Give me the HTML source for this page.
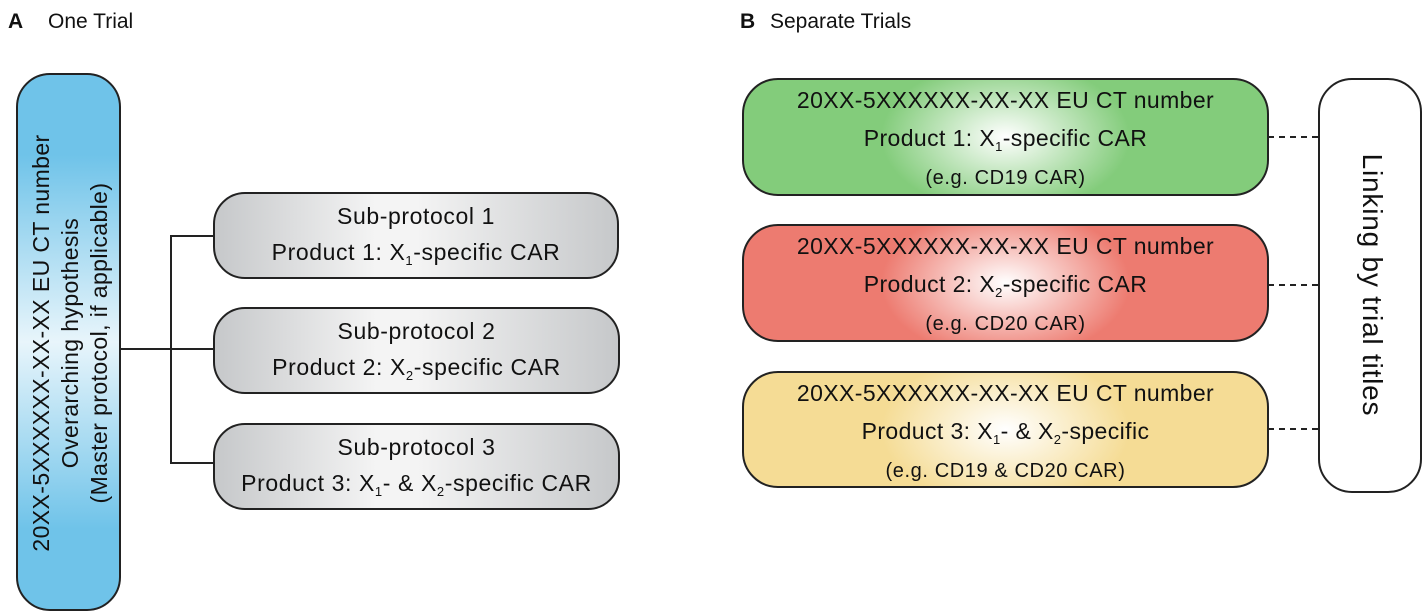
<!DOCTYPE html>
<html><head><meta charset="utf-8"><style>
body{margin:0;width:1428px;height:616px;background:#fff;position:relative;overflow:hidden;font-family:"Liberation Sans",sans-serif;color:#111}
.b{position:absolute;box-sizing:border-box;border:2.5px solid #222;text-align:center;white-space:nowrap}
.g{border-radius:32px;background:linear-gradient(90deg,#c6c8ca,#f4f4f4 40%,#f4f4f4 50%,#c6c8ca);font-size:23px;line-height:36px;padding-top:4px;letter-spacing:0.6px}
.c{border-radius:36px;font-size:23px;line-height:38px;padding-top:1px;letter-spacing:0.4px}
.c .s{font-size:20px;letter-spacing:0.6px}
sub{font-size:13px;vertical-align:-5px;line-height:0}
.l{position:absolute;background:#222}
.d{position:absolute;height:0;border-top:2px dashed #222;width:50px;left:1268px}
.h{position:absolute;font-size:21px;top:10px}
</style></head><body>
<div class="h" style="left:8px;font-weight:bold">A</div>
<div class="h" style="left:48px">One Trial</div>
<div class="h" style="left:740px;font-weight:bold">B</div>
<div class="h" style="left:770px">Separate Trials</div>

<div class="b" style="left:16px;top:73px;width:105px;height:538px;border-radius:34px;background:linear-gradient(180deg,#6fc3e9 15%,#e8f5fb 50%,#6fc3e9 85%)"></div>
<div style="position:absolute;left:71px;top:343px;width:0;height:0;">
<div style="position:absolute;left:-270px;top:-50px;width:540px;height:100px;transform:rotate(-90deg);text-align:center;font-size:23px;line-height:29px;padding-top:6px;box-sizing:border-box;letter-spacing:0.4px;white-space:nowrap">20XX-5XXXXXX-XX-XX EU CT number<br>Overarching hypothesis<br>(Master protocol, if applicable)</div></div>

<div class="l" style="left:121px;top:348px;width:93px;height:2px"></div>
<div class="l" style="left:170px;top:235px;width:2px;height:229px"></div>
<div class="l" style="left:170px;top:235px;width:44px;height:2px"></div>
<div class="l" style="left:170px;top:462px;width:44px;height:2px"></div>

<div class="b g" style="left:213px;top:192px;width:406px;height:87px">Sub-protocol 1<br>Product 1: X<sub>1</sub>-specific CAR</div>
<div class="b g" style="left:213px;top:307px;width:407px;height:87px">Sub-protocol 2<br>Product 2: X<sub>2</sub>-specific CAR</div>
<div class="b g" style="left:213px;top:423px;width:407px;height:87px">Sub-protocol 3<br>Product 3: X<sub>1</sub>- &amp; X<sub>2</sub>-specific CAR</div>

<div class="b c" style="left:742px;top:78px;width:527px;height:118px;background:radial-gradient(ellipse 25% 70% at 50% 50%,#fff,#83cc7b 95%)">20XX-5XXXXXX-XX-XX EU CT number<br>Product 1: X<sub>1</sub>-specific CAR<br><span class="s">(e.g. CD19 CAR)</span></div>
<div class="b c" style="left:742px;top:224px;width:527px;height:118px;background:radial-gradient(ellipse 25% 70% at 50% 50%,#fff,#ed7b70 95%)">20XX-5XXXXXX-XX-XX EU CT number<br>Product 2: X<sub>2</sub>-specific CAR<br><span class="s">(e.g. CD20 CAR)</span></div>
<div class="b c" style="left:742px;top:371px;width:527px;height:117px;background:radial-gradient(ellipse 25% 70% at 50% 50%,#fff,#f5dc95 95%)">20XX-5XXXXXX-XX-XX EU CT number<br>Product 3: X<sub>1</sub>- &amp; X<sub>2</sub>-specific<br><span class="s">(e.g. CD19 &amp; CD20 CAR)</span></div>

<div class="d" style="top:136px"></div>
<div class="d" style="top:284px"></div>
<div class="d" style="top:428px"></div>

<div class="b" style="left:1318px;top:78px;width:104px;height:415px;border-radius:34px;background:#fff"></div>
<div style="position:absolute;left:1372px;top:285px;width:0;height:0">
<div style="position:absolute;left:-200px;top:-18px;width:400px;height:36px;line-height:36px;transform:rotate(90deg);text-align:center;font-size:28px;letter-spacing:0.8px;white-space:nowrap">Linking by trial titles</div></div>
</body></html>
